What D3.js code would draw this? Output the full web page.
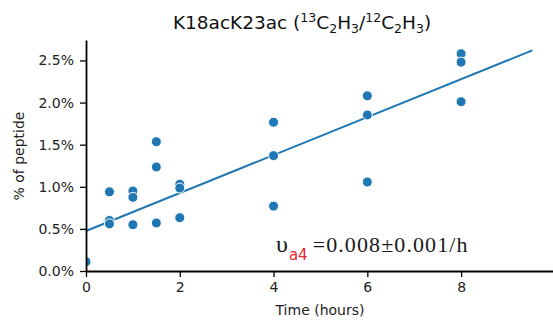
<!DOCTYPE html>
<html><head><meta charset="utf-8">
<script src="https://cdn.jsdelivr.net/npm/d3@7"></script>
<style>body{margin:0;background:#fff}svg{display:block}</style>
</head><body>
<svg id="c" width="553" height="322"></svg>
<script>
const timeHours = [0, 0.5, 0.5, 0.5, 1, 1, 1, 1.5, 1.5, 1.5, 2, 2, 2, 4, 4, 4, 6, 6, 6, 8, 8, 8];
const peptidePct = [0.11, 0.94, 0.60, 0.56, 0.95, 0.875, 0.55, 1.535, 1.235, 0.57, 1.03, 0.985, 0.633, 1.766, 1.37, 0.77, 2.08, 1.853, 1.057, 2.58, 2.48, 2.01];
const fitX = [0, 9.52];
const fitY = [0.475, 2.62];
const xTicks = [0, 2, 4, 6, 8];
const yTicks = [0, 0.5, 1.0, 1.5, 2.0, 2.5];

const svg = d3.select("#c");
const L = 86, R = 553, T = 40, B = 271;
const x = d3.scaleLinear().domain([0, 9.96]).range([L, R]);
const y = d3.scaleLinear().domain([0, 2.743]).range([B, T]);
const blue = "#1f77b4";
const sans = "'DejaVu Sans', sans-serif";

svg.append("defs").append("clipPath").attr("id","clip")
  .append("rect").attr("x",L).attr("y",T-10).attr("width",R-L+10).attr("height",B-T+10);

// fit line
svg.append("line")
  .attr("x1", x(fitX[0])).attr("y1", y(fitY[0]))
  .attr("x2", x(fitX[1])).attr("y2", y(fitY[1]))
  .attr("stroke", blue).attr("stroke-width", 2);

// points
svg.append("g").attr("clip-path","url(#clip)")
  .selectAll("circle").data(timeHours.map((t,i)=>[t,peptidePct[i]])).join("circle")
  .attr("cx", d=>x(d[0])).attr("cy", d=>y(d[1])).attr("r", 5)
  .attr("fill", blue).attr("stroke", "#fff").attr("stroke-width", 1);

// axes
const xAxis = svg.append("g").attr("transform",`translate(0,${B})`)
  .call(d3.axisBottom(x).tickValues(xTicks).tickFormat(d3.format("d")).tickSize(6).tickPadding(5).tickSizeOuter(0));
const yAxis = svg.append("g").attr("transform",`translate(${L},0)`)
  .call(d3.axisLeft(y).tickValues(yTicks).tickFormat(d=>d.toFixed(1)+"%").tickSize(6).tickPadding(6).tickSizeOuter(0));
[xAxis, yAxis].forEach(a=>{
  a.select(".domain").attr("stroke","#000").attr("stroke-width",1.8);
  a.selectAll(".tick line").attr("stroke","#000").attr("stroke-width",1.3);
  a.selectAll(".tick text").attr("fill","#222").style("font-family",sans).style("font-size","14px");
});

// labels
svg.append("text").attr("x", 320).attr("y", 315).attr("text-anchor","middle")
  .style("font-family",sans).style("font-size","14px").attr("fill","#222").text("Time (hours)");
svg.append("text").attr("transform","translate(24,156) rotate(-90)").attr("text-anchor","middle")
  .style("font-family",sans).style("font-size","14px").attr("fill","#222").text("% of peptide");

// title
const title = svg.append("text").attr("x", 302).attr("y", 29).attr("text-anchor","middle")
  .style("font-family",sans).style("font-size","18.5px").attr("fill","#111");
const sup = (t)=>{title.append("tspan").attr("dy",-7).style("font-size","12.5px").text(t);};
const sub = (t)=>{title.append("tspan").attr("dy",4).style("font-size","12.5px").text(t);};
title.append("tspan").text("K18acK23ac (");
sup("13");
title.append("tspan").attr("dy",7).text("C");
sub("2");
title.append("tspan").attr("dy",-4).text("H");
sub("3");
title.append("tspan").attr("dy",-4).text("/");
sup("12");
title.append("tspan").attr("dy",7).text("C");
sub("2");
title.append("tspan").attr("dy",-4).text("H");
sub("3");
title.append("tspan").attr("dy",-4).text(")");

// annotation
const ann = svg.append("text").attr("x", 276).attr("y", 252)
  .style("font-family","'Liberation Serif', 'DejaVu Serif', serif").style("font-size","22px").attr("fill","#1a1a1a");
ann.append("tspan").style("font-size","24px").text("υ");
ann.append("tspan").attr("dy",8).attr("dx",1).style("font-family",sans).style("font-size","15px").attr("fill","#e8262b").text("a4");
ann.append("tspan").attr("dy",-8).attr("dx",5).style("letter-spacing","1.1px").text("=0.008±0.001/h");
</script>
</body></html>
